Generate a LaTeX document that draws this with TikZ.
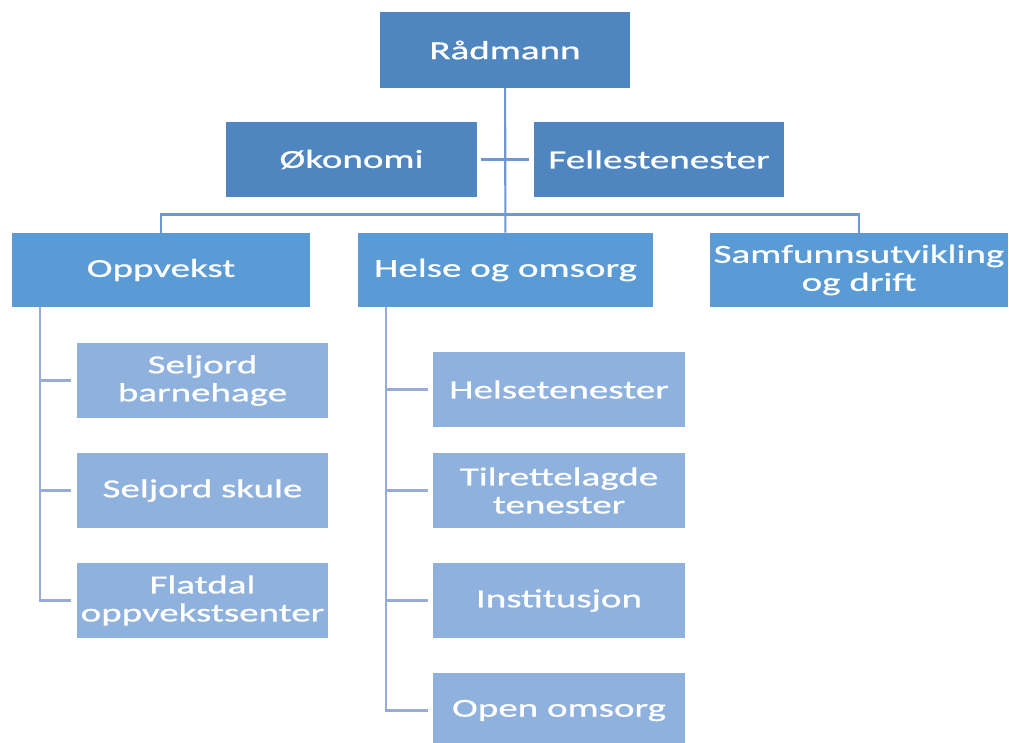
\documentclass[tikz,border=0pt]{standalone}
\usepackage{fontspec}
\setmainfont{Carlito}[FakeStretch=1.5, FakeBold=0.8]
\definecolor{TopBlue}{HTML}{4F86C0}
\definecolor{MidBlue}{HTML}{5B9BD5}
\definecolor{LeafBlue}{HTML}{8FB1DD}
\definecolor{LineBlue}{HTML}{6F98D2}
\definecolor{LeafLine}{HTML}{97ADD8}
\usetikzlibrary{positioning}

\begin{document}
\begin{tikzpicture}[
        x=0.75pt, y=-0.75pt,
        box/.style={rectangle, inner xsep=1pt, inner ysep=0pt, align=center, text=white,
            font=\fontsize{19.5}{21}\selectfont},
        topbox/.style={box, fill=TopBlue, minimum width=188pt, minimum height=56.5pt},
        midbox/.style={box, fill=MidBlue, minimum width=224pt, minimum height=55.5pt},
        leafbox/.style={box, fill=LeafBlue, minimum width=188.5pt, minimum height=56pt},
        link/.style={LineBlue, line width=1.6pt},
        leaflink/.style={LeafLine, line width=1.6pt, shorten >=4pt}
    ]
        \useasboundingbox (0,0) rectangle (1009,742);
        \clip (0,0) rectangle (1009,742);

        % Top level
        \node[topbox] (rad) at (505, 50) {Rådmann};
        \node[topbox] (oko) at (351.5, 159.5) {Økonomi};
        \node[topbox] (fel) at (659, 159.5) {Fellestenester};

        % Sectors
        \node[midbox] (opp) at (161, 270) {Oppvekst};
        \node[midbox, minimum width=221pt] (helse) at (505.5, 270) {Helse og omsorg};
        \node[midbox] (sam) at (859, 270) {Samfunnsutvikling\\og drift};

        % Units under Oppvekst
        \node[leafbox] (barn) at (202.5, 380.5) {Seljord\\barnehage};
        \node[leafbox] (skule) at (202.5, 490.5) {Seljord skule};
        \node[leafbox] (flat) at (202.5, 600.5) {Flatdal\\oppvekstsenter};

        % Units under Helse og omsorg
        \node[leafbox] (hten) at (559, 389.5) {Helsetenester};
        \node[leafbox] (tilr) at (559, 490.5) {Tilrettelagde\\tenester};
        \node[leafbox] (inst) at (559, 600.5) {Institusjon};
        \node[leafbox] (open) at (559, 710.5) {Open omsorg};

        % Staff and trunk
        \draw[link] (rad) -- (helse);
        \draw[link, shorten <=3pt, shorten >=3pt] (oko) -- (fel);

        % Bar to the sectors
        \coordinate (barL) at (161, 214.5);
        \draw[link] (opp) -- (barL) -| (sam);

        % Branches to the units
        \coordinate (oppL) at (40, 307);
        \coordinate (helL) at (386, 307);
        \foreach \unit in {barn, skule, flat} {
            \draw[leaflink] (oppL) |- (\unit.west);
        }
        \foreach \unit in {hten, tilr, inst, open} {
            \draw[leaflink] (helL) |- (\unit.west);
        }
    \end{tikzpicture}
\end{document}
